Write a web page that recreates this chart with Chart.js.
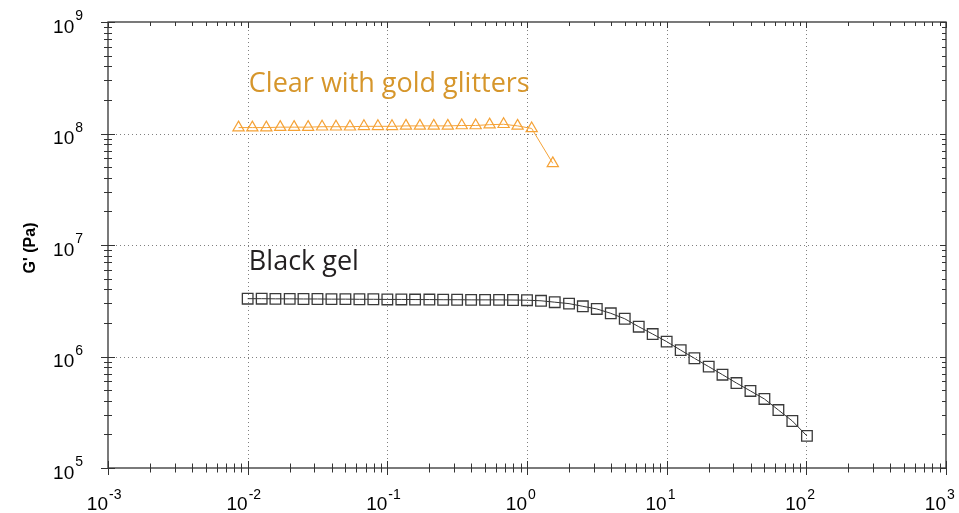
<!DOCTYPE html>
<html><head><meta charset="utf-8">
<script src="https://cdn.jsdelivr.net/npm/chart.js@4"></script>
<style>html,body{margin:0;padding:0;background:#fff;}canvas{display:block;}</style>
</head><body>
<canvas id="c" width="959" height="513"></canvas>
<script>
// ---- data ----
const blackX = [0.01,0.0126,0.0158,0.02,0.0251,0.0316,0.0398,0.0501,0.0631,0.0794,
  0.1,0.126,0.158,0.2,0.251,0.316,0.398,0.501,0.631,0.794,
  1.0,1.26,1.58,2.0,2.51,3.16,3.98,5.01,6.31,7.94,
  10,12.6,15.8,20,25.1,31.6,39.8,50.1,63.1,79.4,101];
const blackY = [3.3e6,3.3e6,3.29e6,3.29e6,3.28e6,3.28e6,3.27e6,3.27e6,3.26e6,3.26e6,
  3.25e6,3.25e6,3.24e6,3.24e6,3.23e6,3.23e6,3.22e6,3.22e6,3.22e6,3.21e6,
  3.2e6,3.16e6,3.07e6,2.98e6,2.82e6,2.67e6,2.44e6,2.18e6,1.85e6,1.59e6,
  1.36e6,1.14e6,9.64e5,8.11e5,6.87e5,5.78e5,4.91e5,4.16e5,3.31e5,2.64e5,1.94e5];
const goldX = [0.0086,0.0108,0.0136,0.0171,0.0215,0.0271,0.0341,0.0429,0.054,0.068,
  0.0856,0.108,0.136,0.171,0.215,0.271,0.341,0.429,0.54,0.68,
  0.856,1.08,1.53];
const goldY = [1.13e8,1.13e8,1.13e8,1.14e8,1.14e8,1.14e8,1.15e8,1.15e8,1.15e8,1.16e8,
  1.16e8,1.16e8,1.17e8,1.17e8,1.17e8,1.17e8,1.18e8,1.18e8,1.2e8,1.21e8,
  1.17e8,1.11e8,5.4e7];
const seriesNames = ['Clear with gold glitters','Black gel'];
const seriesLabelAnchor = [[0.0102,2.36e8],[0.0102,5.97e6]];
const xTickExp = [-3,-2,-1,0,1,2,3];
const yTickExp = [5,6,7,8,9];
const yTitle = "G' (Pa)";

const pts = (xs, ys) => xs.map((v,i)=>({x:v,y:ys[i]}));

const deco = {
  id:'deco',
  beforeDatasetsDraw(chart){
    const {ctx, chartArea:a, scales:{x,y}} = chart;
    ctx.save();
    ctx.strokeStyle='#808080'; ctx.lineWidth=1; ctx.setLineDash([1,3]);
    xTickExp.forEach(e=>{ if(e===xTickExp[0]||e===xTickExp[xTickExp.length-1])return;
      const px=Math.round(x.getPixelForValue(Math.pow(10,e)))+0.5;
      ctx.beginPath(); ctx.moveTo(px,a.top); ctx.lineTo(px,a.bottom); ctx.stroke();});
    yTickExp.forEach(e=>{ if(e===yTickExp[0]||e===yTickExp[yTickExp.length-1])return;
      const py=Math.round(y.getPixelForValue(Math.pow(10,e)))+0.5;
      ctx.beginPath(); ctx.moveTo(a.left,py); ctx.lineTo(a.right,py); ctx.stroke();});
    ctx.restore();
  },
  afterDatasetsDraw(chart){
    const {ctx, chartArea:a, scales:{x,y}} = chart;
    ctx.save();
    // frame
    ctx.strokeStyle='#333'; ctx.lineWidth=1.3;
    ctx.strokeRect(a.left,a.top,a.right-a.left,a.bottom-a.top);
    // ticks
    ctx.lineWidth=1; ctx.strokeStyle='#333';
    const line=(x1,y1,x2,y2)=>{ctx.beginPath();ctx.moveTo(x1,y1);ctx.lineTo(x2,y2);ctx.stroke();};
    for(let i=0;i<xTickExp.length;i++){
      const e=xTickExp[i];
      const px=Math.round(x.getPixelForValue(Math.pow(10,e)))+0.5;
      line(px,a.bottom-7,px,a.bottom+7); line(px,a.top,px,a.top+6);
      if(i<xTickExp.length-1) for(let m=2;m<=9;m++){
        const q=Math.round(x.getPixelForValue(m*Math.pow(10,e)))+0.5;
        line(q,a.bottom-4.5,q,a.bottom+4.5); line(q,a.top,q,a.top+4);
      }
    }
    for(let i=0;i<yTickExp.length;i++){
      const e=yTickExp[i];
      const py=Math.round(y.getPixelForValue(Math.pow(10,e)))+0.5;
      line(a.left-7,py,a.left+7,py); line(a.right-6,py,a.right,py);
      if(i<yTickExp.length-1) for(let m=2;m<=9;m++){
        const q=Math.round(y.getPixelForValue(m*Math.pow(10,e)))+0.5;
        line(a.left-4,q,a.left+4,q); line(a.right-4,q,a.right,q);
      }
    }
    // tick labels
    ctx.fillStyle='#000';
    const big='19px "Liberation Sans", Arial, sans-serif';
    const small='14px "Liberation Sans", Arial, sans-serif';
    xTickExp.forEach(e=>{
      const px=x.getPixelForValue(Math.pow(10,e));
      ctx.font=big; ctx.textAlign='right'; ctx.textBaseline='alphabetic';
      ctx.fillText('10',px,a.bottom+42);
      ctx.font=small; ctx.textAlign='left';
      ctx.fillText(String(e),px+1,a.bottom+31);
    });
    yTickExp.forEach(e=>{
      const py=y.getPixelForValue(Math.pow(10,e));
      ctx.font=small; const s=String(e); const w=ctx.measureText(s).width;
      const right=a.left-25;
      ctx.textAlign='left'; ctx.fillText(s,right-w,py-2);
      ctx.font=big; ctx.textAlign='right'; ctx.fillText('10',right-w-1,py+10.5);
    });
    // y title
    ctx.save();
    ctx.translate(31,248); ctx.rotate(-Math.PI/2);
    ctx.font='bold 16px "Liberation Sans", Arial, sans-serif';
    ctx.textAlign='center'; ctx.textBaseline='middle'; ctx.fillStyle='#000';
    ctx.fillText(yTitle,0,0);
    ctx.restore();
    // series labels
    const cols=['#D6962B','#231F20'];
    ctx.font='27px "Open Sans", sans-serif'; ctx.textAlign='left'; ctx.textBaseline='alphabetic';
    seriesNames.forEach((n,i)=>{
      ctx.fillStyle=cols[i];
      ctx.fillText(n,x.getPixelForValue(seriesLabelAnchor[i][0]),y.getPixelForValue(seriesLabelAnchor[i][1]));
    });
    ctx.restore();
  }
};

new Chart(document.getElementById('c'),{
  type:'line',
  data:{datasets:[
    {label:seriesNames[0],data:pts(goldX,goldY),borderColor:'#F5A236',borderWidth:1,
     pointStyle:'triangle',pointRadius:6.5,pointBorderColor:'#F5A236',pointBorderWidth:1.2,
     pointBackgroundColor:'rgba(0,0,0,0)',tension:0,fill:false},
    {label:seriesNames[1],data:pts(blackX,blackY),borderColor:'#333',borderWidth:1,
     pointStyle:'rect',pointRadius:7.5,pointBorderColor:'#3a3a3a',pointBorderWidth:1.3,
     pointBackgroundColor:'rgba(0,0,0,0)',tension:0,fill:false}
  ]},
  options:{
    responsive:false, animation:false, devicePixelRatio:1,
    layout:{padding:{left:108,top:22,right:13,bottom:45}},
    plugins:{legend:{display:false},tooltip:{enabled:false}},
    scales:{
      x:{type:'logarithmic',min:1e-3,max:1e3,position:'bottom',
         ticks:{display:false},grid:{display:false,drawTicks:false},border:{display:false}},
      y:{type:'logarithmic',min:1e5,max:1e9,position:'left',
         ticks:{display:false},grid:{display:false,drawTicks:false},border:{display:false}}
    }
  },
  plugins:[deco]
});
</script>
</body></html>
